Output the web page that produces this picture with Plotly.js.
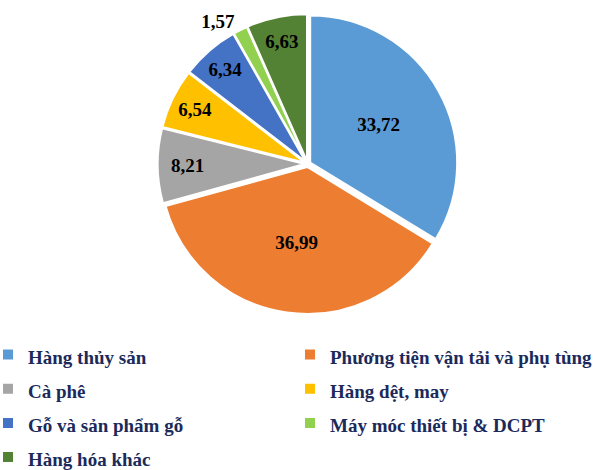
<!DOCTYPE html>
<html>
<head>
<meta charset="utf-8">
<script src="https://cdn.plot.ly/plotly-3.0.1.min.js"></script>
<style>html,body{margin:0;padding:0;background:#fff;}#chart{width:602px;height:470px;}</style>
</head>
<body>
<div id="chart"></div>
<script>
const categories = ["Hàng thủy sản", "Phương tiện vận tải và phụ tùng", "Cà phê", "Hàng dệt, may", "Gỗ và sản phẩm gỗ", "Máy móc thiết bị & DCPT", "Hàng hóa khác"];
const shares = [33.72, 36.99, 8.21, 6.54, 6.34, 1.57, 6.63];
const colors = ["#5B9BD5", "#ED7D31", "#A5A5A5", "#FFC000", "#4472C4", "#92D050", "#548235"];
const textPositions = ["inside", "inside", "inside", "inside", "inside", "outside", "inside"];

const serif = "'Liberation Serif', 'Times New Roman', Times, serif";

const trace = {
  type: "pie",
  labels: categories.map(c => '<span style="font-size:19px"><b>' + c + '</b></span>'),
  values: shares,
  sort: false,
  direction: "clockwise",
  rotation: 0,
  pull: 0.02,
  marker: {colors: colors, line: {color: "#ffffff", width: 2}},
  texttemplate: "<b>%{value:.2f}</b>",
  textposition: textPositions,
  insidetextorientation: "horizontal",
  textfont: {family: serif, size: 19, color: "#000000"},
  hoverinfo: "label+value",
  domain: {x: [0.257, 0.765], y: [0.332, 0.970]}
};

const layout = {
  width: 602, height: 470,
  margin: {l: 0, r: 0, t: 0, b: 0, autoexpand: false},
  paper_bgcolor: "#ffffff",
  separators: ",.",
  font: {family: serif},
  showlegend: true,
  legend: {
    orientation: "h",
    x: 0, xanchor: "left",
    y: -0.02, yanchor: "bottom",
    entrywidth: 269, entrywidthmode: "pixels",
    indentation: -12,
    traceorder: "normal",
    font: {family: serif, size: 24, color: "#1B2A5A"}
  }
};

Plotly.newPlot("chart", [trace], layout, {displayModeBar: false, staticPlot: true});
</script>
</body>
</html>
